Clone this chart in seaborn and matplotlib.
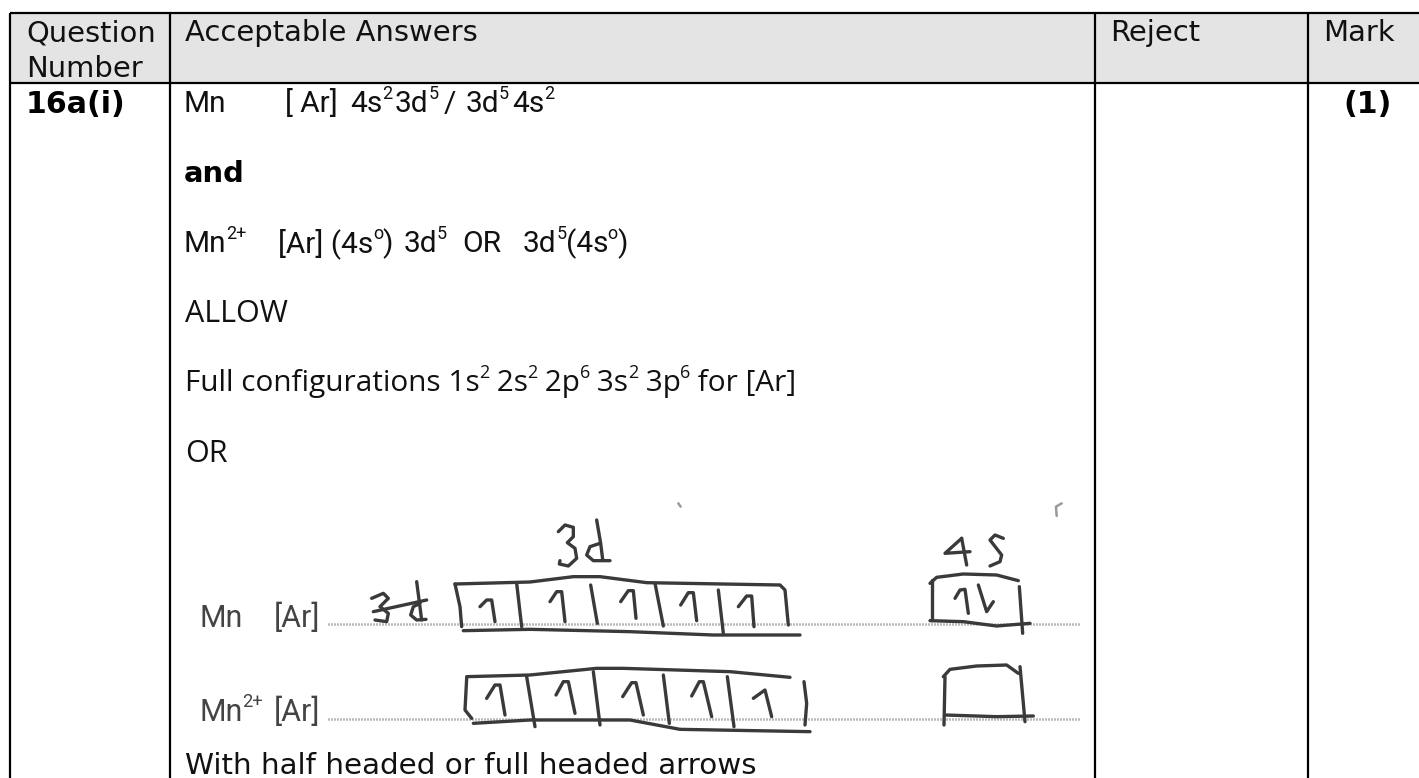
import matplotlib
matplotlib.use("Agg")
import matplotlib.pyplot as plt
import seaborn as sns
import pandas as pd

# ---- table content ----
columns = ["Question\nNumber", "Acceptable Answers", "Reject", "Mark"]
question = "16a(i)"
mark = "(1)"
plain_lines = ["ALLOW", "OR", "With half headed or full headed arrows"]

sns.set_theme(style="white")
plt.rcParams["font.family"] = ["DejaVu Sans"]
NARROW = ["Roboto", "DejaVu Sans"]
HUMAN = ["Open Sans", "DejaVu Sans"]

W, H = 1419, 778
fig = plt.figure(figsize=(W / 100, H / 100), dpi=100)
ax = fig.add_axes([0, 0, 1, 1])
ax.set_xlim(0, W)
ax.set_ylim(H, 0)
ax.axis("off")

# ---- grid ----
col_x = [10, 170, 1095, 1308]
top, head, bottom = 12.5, 83, H
ax.fill_between([col_x[0], W], top, head, color="#e4e4e4", lw=0, zorder=0)
for x in col_x:
    ax.plot([x, x], [top, bottom], color="black", lw=1.6, zorder=3, solid_capstyle="butt")
for y in (top, head):
    ax.plot([col_x[0], W], [y, y], color="black", lw=1.6, zorder=3, solid_capstyle="butt")

FS = 20.9
def T(x, y, s, **k):
    k.setdefault("fontsize", FS)
    k.setdefault("color", "#111111")
    return ax.text(x, y, s, ha="left", va="baseline", **k)

q1, q2 = columns[0].split("\n")
T(26, 41, q1); T(26, 77, q2)
T(185, 41, columns[1]); T(1110, 41, columns[2]); T(1323, 41, columns[3])
T(26, 113, question, fontweight="bold", fontsize=21.6, color="black")
T(1343, 113, mark, fontweight="bold", fontsize=21.6, color="black")
T(184, 182, "and", fontweight="bold", color="black")
T(185, 322, plain_lines[0], family=HUMAN, fontsize=22)
T(185, 462, plain_lines[1], family=HUMAN, fontsize=22)
T(185, 774, plain_lines[2], fontsize=21.2)

fig.canvas.draw()
rend = fig.canvas.get_renderer()
def flow(x, y, runs, family=NARROW, fs=21.5, color="#111111"):
    """runs: (text, is_superscript); pieces set after each other; spaces kept as NBSP"""
    for s, sup in runs:
        size = fs * 0.6 if sup else fs
        s = s.replace(" ", "\u00a0")
        t = ax.text(x, y - (fs * 0.62 if sup else 0), s, ha="left", va="baseline", family=family,
                    fontsize=size, color=color)
        x = t.get_window_extent(rend).x1 - 0.5

flow(184, 112, [("Mn", 0)])
flow(285, 112, [("[ Ar]", 0)])
flow(350, 112, [("4s", 0), ("2", 1)])
flow(395, 112, [("3d", 0), ("5", 1)])
flow(444, 112, [("/", 0)])
flow(466, 112, [("3d", 0), ("5", 1)])
flow(512, 112, [("4s", 0), ("2", 1)])
flow(184, 252, [("Mn", 0), ("2+", 1)])
flow(278, 252, [("[Ar] (4s", 0), ("o", 1), (")", 0)])
flow(404, 252, [("3d", 0), ("5", 1)])
flow(462, 252, [("OR", 0)])
flow(523, 252, [("3d", 0), ("5", 1), ("(4s", 0), ("o", 1), (")", 0)])
flow(185, 391, [("Full configurations 1s", 0), ("2", 1), (" 2s", 0), ("2", 1), (" 2p", 0), ("6", 1),
                (" 3s", 0), ("2", 1), (" 3p", 0), ("6", 1), (" for [Ar]", 0)], family=HUMAN, fs=21.4)

# ---- scanned answer: printed labels and dotted rules ----
for y_rule, y_base, label in ((624, 627, [("Mn", 0)]), (719, 721, [("Mn", 0), ("2+", 1)])):
    flow(199, y_base, label, fs=22, color="#444444")
    flow(274, y_base, [("[Ar]", 0)], fs=22, color="#444444")
    ax.plot([328, 1080], [y_rule, y_rule], color="#777777", lw=1.8, ls=(0, (0.4, 0.8)), zorder=1)

# ---- handwriting, traced in scan units (3 per px, origin 130,570) ----
def shift(dx, dy, pts):
    return [(x + dx, y + dy) for x, y in pts]

strokes = [
    # row 1 boxes
    [(975,42),(1200,36),(1330,20),(1410,20),(1550,38),(1950,45),(1965,60),(1975,165)],
    [(975,42),(990,110),(995,170)],
    [(1000,182),(1200,178),(1500,185),(1750,195),(2010,195)],
    [(1160,40),(1175,170)], [(1382,45),(1402,160)], [(1575,40),(1600,168)], [(1765,60),(1780,190)],
    [(1050,110),(1070,90),(1085,90),(1095,155)], [(1260,95),(1280,65),(1295,65),(1305,155)],
    [(1472,95),(1495,62),(1510,62),(1518,145)], [(1652,105),(1675,68),(1690,68),(1700,152)],
    [(1825,110),(1850,78),(1865,78),(1872,170)],
    # struck out 3d
    [(725,85),(760,70),(775,85),(750,110),(775,130),(770,155),(735,150)],
    [(860,35),(875,150)], [(870,100),(850,110),(842,135),(860,150),(888,148)], [(730,125),(890,90)],
    # row 1, 4s box
    [(2400,40),(2420,22),(2500,12),(2600,15),(2665,32)], [(2405,30),(2405,150)],
    [(2400,152),(2500,155),(2600,168),(2700,160)], [(2668,50),(2678,190)],
    [(2475,85),(2490,60),(2505,58),(2515,130)], [(2545,45),(2570,125),(2590,95)],
    # row 2 boxes
    [(1010,325),(1005,420),(1025,445)],
    [(1010,320),(1200,315),(1400,295),(1480,295),(1800,305),(1980,322)],
    [(1030,460),(1200,450),(1500,450),(1650,478),(2040,485)],
    [(2022,335),(2030,400),(2025,465)],
    [(1190,320),(1215,470)], [(1390,305),(1410,465)], [(1600,315),(1618,460)], [(1792,320),(1812,470)],
    [(1070,385),(1095,345),(1110,345),(1125,435)], [(1278,375),(1300,335),(1315,335),(1335,430)],
    [(1478,380),(1505,338),(1518,338),(1540,435)], [(1685,378),(1708,335),(1720,335),(1745,440)],
    [(1870,385),(1905,360),(1925,440)],
    # row 2, 4s box
    [(2445,320),(2442,465)], [(2440,320),(2460,298),(2540,288),(2630,285),(2665,310)],
    [(2670,290),(2685,455)], [(2445,435),(2600,440),(2710,438)],
    # "3d" heading
    shift(1200, -240, [(85,125),(105,105),(130,112),(130,140),(112,158),(135,175),(140,205),(115,228),(88,222),(90,212)]),
    shift(1200, -240, [(200,90),(212,160),(218,208)]),
    shift(1200, -240, [(210,160),(180,170),(170,195),(190,212),(240,212)]),
    # "4s" heading
    shift(2370, -240, [(125,145),(75,190),(150,185)]),
    shift(2370, -240, [(125,145),(140,225)]),
    shift(2370, -240, [(250,145),(225,135),(210,150),(245,195),(240,215),(210,228)]),
]
specks = [
    shift(2370, -240, [(425,40),(408,50),(410,78)]),
    shift(1200, -240, [(445,40),(452,50)]),
]
def draw(pts, colour, width):
    df = pd.DataFrame(pts, columns=["zx", "zy"])
    df["x"] = 130 + df.zx / 3
    df["y"] = 570 + df.zy / 3
    sns.lineplot(data=df, x="x", y="y", sort=False, estimator=None, color=colour, lw=width, ax=ax,
                 zorder=2, solid_capstyle="round", solid_joinstyle="round")
for s in strokes:
    draw(s, "#3a3a3a", 2.4)
for s in specks:
    draw(s, "#9a9a9a", 1.8)
ax.set_xlim(0, W); ax.set_ylim(H, 0)
ax.axis("off")
fig.savefig("out.png", dpi=100)
